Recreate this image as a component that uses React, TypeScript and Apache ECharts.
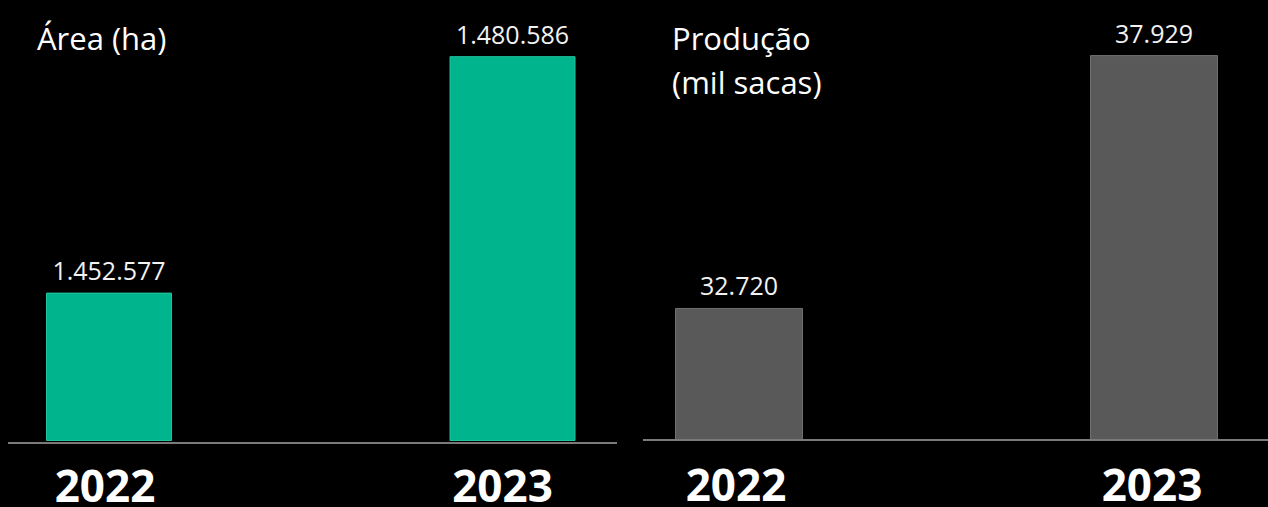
import React, { useEffect, useRef } from "react";
import * as echarts from "echarts";

const years = ["2022", "2023"];
const areaValues = [1452577, 1480586];
const prodValues = [32720, 37929];
const areaTitle = "Área (ha)";
const prodTitle = "Produção\n(mil sacas)";

const fmt = (v: number) => String(v).replace(/\B(?=(\d{3})+(?!\d))/g, ".");

export default function App() {
  const ref = useRef<HTMLDivElement>(null);
  useEffect(() => {
    if (!ref.current) return;
    const chart = echarts.init(ref.current, undefined, { renderer: "svg" });
    const font = "'Open Sans', 'Noto Sans', sans-serif";
    const yearStyle = {
      color: "#ffffff",
      fontSize: 44,
      fontWeight: "bold" as const,
      fontFamily: font,
      lineHeight: 38,
    };
    const makeXAxis = (gridIndex: number, shifts: number[]) => ({
      type: "category" as const,
      gridIndex,
      data: years,
      boundaryGap: false,
      axisLine: { show: false },
      axisTick: { show: false },
      axisLabel: {
        margin: 25,
        formatter: (v: string, i: number) => `{y${i}|${v}}`,
        rich: {
          y0: { ...yearStyle, padding: [0, shifts[0], 0, 0] },
          y1: { ...yearStyle, padding: [0, shifts[1], 0, 0] },
        },
      },
    });
    const yCommon = {
      type: "value" as const,
      show: false,
      splitLine: { show: false },
    };
    const labelCommon = {
      show: true,
      position: "top" as const,
      distance: 10,
      color: "#f2f2f2",
      fontSize: 25,
      fontFamily: font,
      formatter: (p: any) => fmt(p.value),
    };
    chart.setOption({
      animation: false,
      backgroundColor: "#000000",
      title: [
        {
          text: areaTitle,
          left: 37,
          top: 22,
          padding: 0,
          textStyle: { color: "#ffffff", fontSize: 31, fontWeight: "normal", fontFamily: font },
        },
        {
          text: prodTitle,
          left: 672,
          top: 16,
          padding: 0,
          textStyle: { color: "#ffffff", fontSize: 31, fontWeight: "normal", fontFamily: font, lineHeight: 44 },
        },
      ],
      grid: [
        { left: 109, top: 40, width: 403.5, height: 403 },
        { left: 739, top: 40, width: 415, height: 400 },
      ],
      xAxis: [makeXAxis(0, [8, 20]), makeXAxis(1, [6, 4])],
      yAxis: [
        { ...yCommon, gridIndex: 0, min: 1435000, max: 1482500, startValue: 1435000 },
        { ...yCommon, gridIndex: 1, min: 30000, max: 38240, startValue: 30000 },
      ],
      series: [
        {
          type: "bar",
          xAxisIndex: 0,
          yAxisIndex: 0,
          data: areaValues,
          barWidth: 126,
          clip: false,
          itemStyle: { color: "#00B48E", borderColor: "#1fc49f", borderWidth: 1 },
          label: labelCommon,
        },
        {
          type: "bar",
          xAxisIndex: 1,
          yAxisIndex: 1,
          data: prodValues,
          barWidth: 128,
          clip: false,
          itemStyle: { color: "#595959", borderColor: "#707070", borderWidth: 1 },
          label: labelCommon,
        },
      ],
      graphic: [
        {
          type: "line",
          shape: { x1: 8, y1: 443, x2: 617, y2: 443 },
          style: { stroke: "#7a7a7a", lineWidth: 2 },
          z: 10,
        },
        {
          type: "line",
          shape: { x1: 643, y1: 440, x2: 1268, y2: 440 },
          style: { stroke: "#7a7a7a", lineWidth: 2 },
          z: 10,
        },
      ],
    });
    return () => chart.dispose();
  }, []);
  return (
    <div
      ref={ref}
      style={{ position: "fixed", left: 0, top: 0, width: 1268, height: 507, background: "#000" }}
    />
  );
}
